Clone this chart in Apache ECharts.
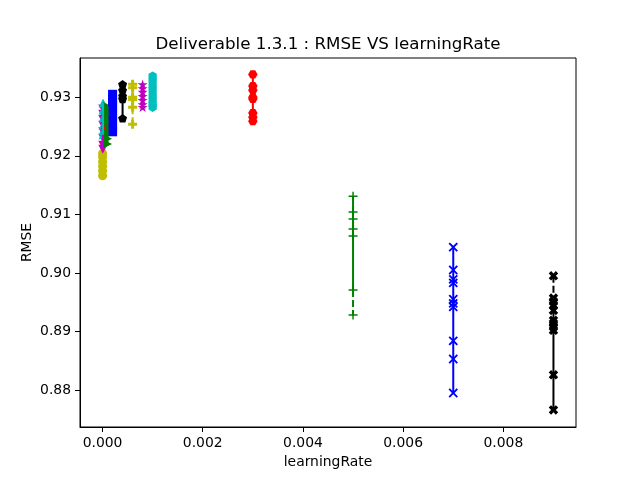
<!DOCTYPE html>
<html><head><meta charset="utf-8">
<script src="https://cdn.jsdelivr.net/npm/echarts@6/dist/echarts.min.js"></script>
<style>html,body{margin:0;padding:0;background:#fff}#c{width:640px;height:480px}</style>
</head><body><div id="c"></div>
<script>
// ---------------- DATA ----------------
const learningRates = [0.000001, 0.000005, 0.00001, 0.00005, 0.0001, 0.0002, 0.0004, 0.0006, 0.0008, 0.001, 0.003, 0.005, 0.007, 0.009];
const rmse_lr0  = [0.9204, 0.9198, 0.9190, 0.9182, 0.9174, 0.9166];
const rmse_lr1  = [0.9280, 0.9271, 0.9262, 0.9252, 0.9241, 0.9230, 0.9218, 0.9211];
const rmse_lr2  = [0.9290, 0.9278, 0.9265, 0.9252, 0.9243, 0.9236];
const rmse_lr3  = [0.9250, 0.9247, 0.9244];
const rmse_lr4  = [0.9284, 0.9277, 0.9268, 0.9258, 0.9248, 0.9238, 0.9229, 0.9220];
const rmse_lr5  = [0.9305, 0.9297, 0.9290, 0.9282, 0.9275, 0.9267, 0.9260, 0.9252, 0.9245, 0.9241];
const rmse_lr6  = [0.9322, 0.9312, 0.9302, 0.9297, 0.9264];
const rmse_lr7  = [0.9322, 0.9316, 0.9300, 0.9296, 0.9283, 0.9254];
const rmse_lr8  = [0.9322, 0.9315, 0.9309, 0.9302, 0.9295, 0.9288, 0.9283];
const rmse_lr9  = [0.9336, 0.9329, 0.9320, 0.9312, 0.9303, 0.9295, 0.9288, 0.9283];
const rmse_lr10 = [0.9339, 0.9319, 0.9312, 0.9300, 0.9297, 0.9273, 0.9266, 0.9259];
const rmse_lr11 = [0.9131, 0.9104, 0.9092, 0.9075, 0.9063, 0.8971, 0.8928];
const rmse_lr12 = [0.9044, 0.9005, 0.8989, 0.8983, 0.8955, 0.8948, 0.8942, 0.8884, 0.8853, 0.8795];
const rmse_lr13 = [0.8995, 0.8957, 0.8951, 0.8945, 0.8936, 0.8919, 0.8914, 0.8908, 0.8902, 0.8826, 0.8766];
const rmseSeries = [rmse_lr0, rmse_lr1, rmse_lr2, rmse_lr3, rmse_lr4, rmse_lr5, rmse_lr6, rmse_lr7, rmse_lr8, rmse_lr9, rmse_lr10, rmse_lr11, rmse_lr12, rmse_lr13];
const xTicks = [0, 0.002, 0.004, 0.006, 0.008];
const yTicks = [0.88, 0.89, 0.90, 0.91, 0.92, 0.93];

// ---------------- STYLE ----------------
const F = 'DejaVu Sans';
const C = {b:'#0000ff', g:'#008000', r:'#ff0000', c:'#00bfbf', m:'#bf00bf', y:'#bfbf00', k:'#000000'};
function poly(n, rot, inner) {
  const pts = []; const m = inner ? 2 * n : n;
  for (let i = 0; i < m; i++) {
    const r = (inner && i % 2) ? inner : 1;
    const a = (rot + i * 360 / m) * Math.PI / 180;
    pts.push([50 + 50 * r * Math.sin(a), 50 - 50 * r * Math.cos(a)]);
  }
  return 'path://M' + pts.map(p => p[0].toFixed(2) + ',' + p[1].toFixed(2)).join('L') + 'Z';
}
const M = {
  o: {symbol:'circle', size:9},
  v: {symbol:'path://M0,0L100,0L50,100Z', size:9},
  '^': {symbol:'path://M50,0L100,100L0,100Z', size:9},
  '<': {symbol:'path://M0,50L100,0L100,100Z', size:9},
  '>': {symbol:'path://M100,50L0,0L0,100Z', size:9},
  s: {symbol:'rect', size:9},
  p: {symbol:poly(5,0), size:9, keep:true},
  P: {symbol:'path://M33.3,0H66.7V33.3H100V66.7H66.7V100H33.3V66.7H0V33.3H33.3Z', size:9},
  '*': {symbol:poly(5,0,0.381966), size:10, keep:true},
  h: {symbol:poly(6,0), size:9.5, keep:true},
  H: {symbol:poly(6,30), size:9.5, keep:true},
  '+': {symbol:'path://M42,0H58V42H100V58H58V100H42V58H0V42H42Z', size:9},
  x: {symbol:'path://M42,0H58V42H100V58H58V100H42V58H0V42H42Z', size:11.5, rot:45},
  X: {symbol:'path://M25,0L50,25L75,0L100,25L75,50L100,75L75,100L50,75L25,100L0,75L25,50L0,25Z', size:9.5}
};
const styles = [
  {c:'y', m:'o'}, {c:'m', m:'v'}, {c:'c', m:'^'}, {c:'r', m:'<'}, {c:'g', m:'>'},
  {c:'b', m:'s'}, {c:'k', m:'p'}, {c:'y', m:'P', dash:4}, {c:'m', m:'*'}, {c:'c', m:'h'},
  {c:'r', m:'H'}, {c:'g', m:'+', dash:5}, {c:'b', m:'x'}, {c:'k', m:'X', dash:0}
];

const series = [];
rmseSeries.forEach((vals, i) => {
  const x = learningRates[i];
  const st = styles[i];
  const col = C[st.c];
  const pts = vals.map(v => [x, v]);
  let solid = pts, dashed = null;
  if (st.dash !== undefined) {
    const d = st.dash;
    dashed = [pts[d], pts[d + 1]];
    solid = pts.filter((p, j) => d === 0 ? j >= 1 : j <= d);
    if (d !== 0 && d + 1 < pts.length - 1) solid = solid.concat([null], pts.slice(d + 1));
  }
  series.push({type:'line', data:solid, symbol:'none', lineStyle:{color:col, width:2}, silent:true, animation:false});
  if (dashed) series.push({type:'line', data:dashed, symbol:'none', lineStyle:{color:col, width:2, type:[7,3]}, silent:true, animation:false});
  const mk = M[st.m];
  series.push({type:'scatter', data:pts, symbol:mk.symbol, symbolSize:mk.size, symbolRotate:mk.rot || 0,
    symbolKeepAspect:!!mk.keep, itemStyle:{color:col, opacity:1}, silent:true, animation:false});
});

const chart = echarts.init(document.getElementById('c'), null, {renderer:'canvas'});
chart.setOption({
  backgroundColor:'#fff',
  animation:false,
  title:{text:'Deliverable 1.3.1 : RMSE VS learningRate', left:328, top:36, textAlign:'center', padding:0,
    textStyle:{fontFamily:F, fontSize:16.7, fontWeight:'normal', color:'#000'}},
  grid:{left:80, right:64, top:58, bottom:53, show:true, borderColor:'#000', borderWidth:1, backgroundColor:'transparent'},
  xAxis:{type:'value', min:-0.00045, max:0.00945, name:'learningRate', nameLocation:'middle', nameGap:28,
    nameMoveOverlap:false,
    nameTextStyle:{fontFamily:F, fontSize:13.9, color:'#000'},
    axisLine:{show:true, onZero:false, lineStyle:{color:'#000', width:1}},
    axisTick:{show:true, length:5, lineStyle:{color:'#000', width:1}, customValues:xTicks},
    axisLabel:{customValues:xTicks, formatter:v => v.toFixed(3), fontFamily:F, fontSize:13.9, color:'#000', margin:9},
    splitLine:{show:false}},
  yAxis:{type:'value', min:0.87369, max:0.9367, name:'RMSE', nameLocation:'middle', nameGap:46,
    nameMoveOverlap:false,
    nameTextStyle:{fontFamily:F, fontSize:13.9, color:'#000'},
    axisLine:{show:true, onZero:false, lineStyle:{color:'#000', width:1}},
    axisTick:{show:true, length:5, lineStyle:{color:'#000', width:1}, customValues:yTicks},
    axisLabel:{customValues:yTicks, formatter:v => v.toFixed(2), fontFamily:F, fontSize:13.9, color:'#000', margin:9},
    splitLine:{show:false}},
  series:series
});
</script></body></html>
